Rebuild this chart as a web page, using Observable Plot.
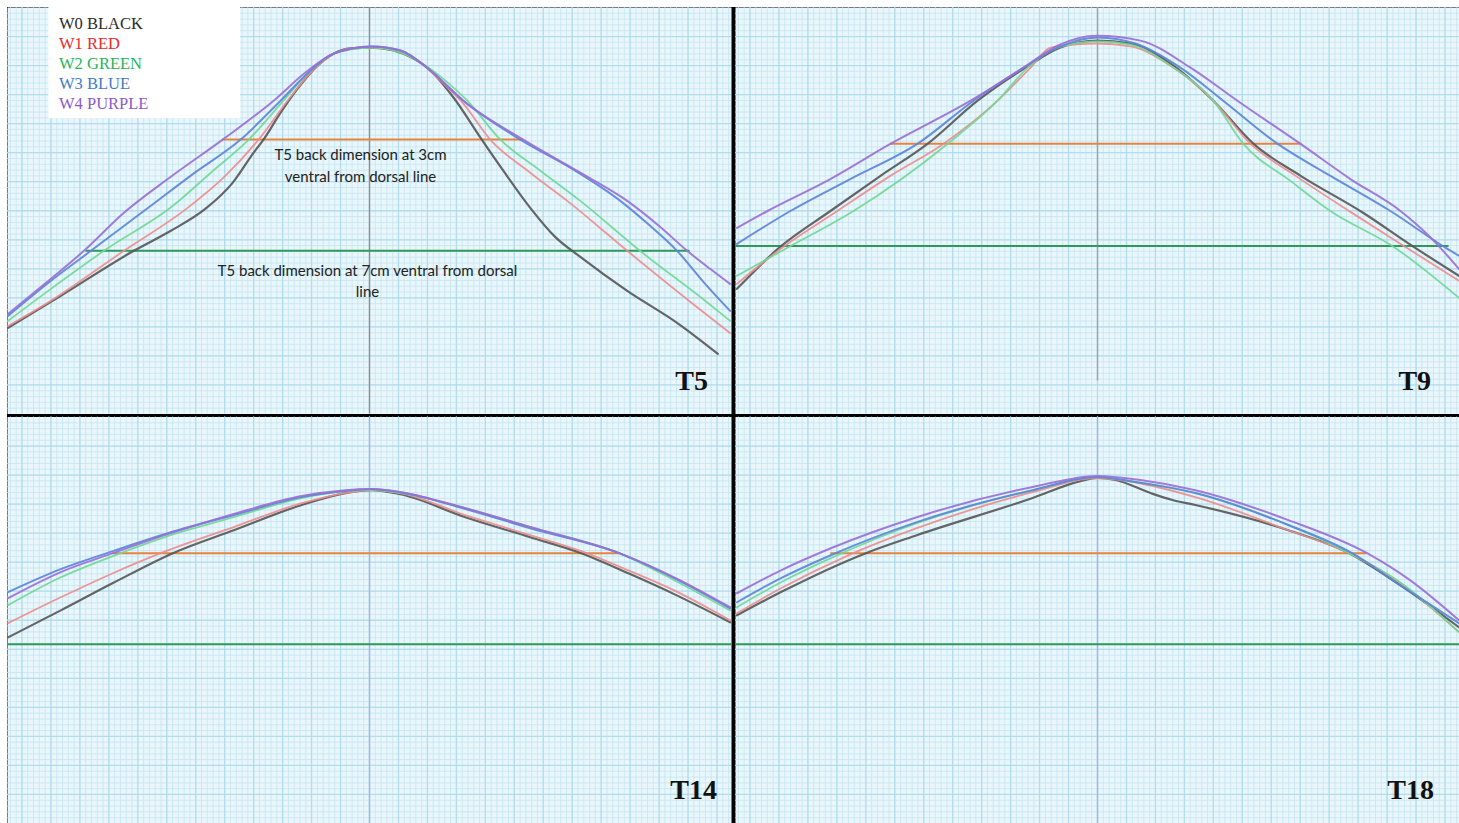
<!DOCTYPE html>
<html><head><meta charset="utf-8">
<script src="https://cdn.jsdelivr.net/npm/d3@7"></script>
<script src="https://cdn.jsdelivr.net/npm/@observablehq/plot@0.6"></script>
<style>
html,body{margin:0;padding:0;background:#fff;}
#wrap{position:absolute;left:7px;top:7px;width:1452px;height:816px;background:#000;}
</style></head>
<body><div id="wrap"></div>
<script>
// ---- categories ----
const panels = ["T5", "T9", "T14", "T18"];
const panelCol = {T5: "left", T9: "right", T14: "left", T18: "right"};
const panelRow = {T5: "top", T9: "top", T14: "bottom", T18: "bottom"};
const series = ["W0 BLACK", "W1 RED", "W2 GREEN", "W3 BLUE", "W4 PURPLE"];
const lineColors = ["#555555", "#ec8c8c", "#6fd894", "#5b84d8", "#9a6ed6"];
const lineWidths = [2.2, 1.8, 1.8, 2, 2];
const legendColors = ["#2a2a2a", "#e8282b", "#25b45c", "#3f7ac4", "#8c5ac6"];

// ---- curve values: [cm from midline, cm below panel top] ----
const t5W0 = [[-12.48,11.03],[-10.66,9.93],[-8.14,8.38],[-6.86,7.69],[-5.66,6.93],[-4.72,6.03],[-4.0,5.0],[-3.66,4.55],[-3.07,3.62],[-2.48,2.79],[-1.79,2.0],[-1.24,1.59],[-0.66,1.41],[0.07,1.38],[0.83,1.48],[1.52,1.76],[2.0,2.07],[2.9,3.1],[3.83,4.48],[4.62,5.62],[5.55,6.9],[6.41,7.9],[7.28,8.59],[8.9,9.76],[10.62,10.86],[12.03,11.93]];
const t5W1 = [[-12.48,10.97],[-11.0,10.1],[-8.48,8.38],[-6.28,6.9],[-4.97,5.79],[-3.83,4.55],[-2.83,3.21],[-2.03,2.24],[-1.34,1.66],[-0.66,1.41],[0.07,1.38],[0.9,1.48],[1.76,1.9],[2.45,2.52],[3.24,3.31],[4.17,4.55],[5.55,5.69],[6.83,6.66],[8.9,8.38],[11.17,10.21],[12.45,11.21]];
const t5W2 = [[-12.48,10.79],[-11.0,9.69],[-9.17,8.38],[-6.79,6.83],[-5.48,5.69],[-4.17,4.55],[-2.97,3.21],[-2.03,2.17],[-1.24,1.59],[0.07,1.38],[0.97,1.52],[1.93,2.0],[2.62,2.52],[3.38,3.21],[4.52,4.55],[5.9,5.62],[7.28,6.66],[9.34,8.38],[11.59,10.1],[12.45,10.79]];
const t5W3 = [[-12.48,10.62],[-11.0,9.41],[-9.62,8.38],[-7.55,6.83],[-6.17,5.79],[-4.45,4.55],[-3.07,3.21],[-2.03,2.17],[-1.24,1.59],[0.07,1.34],[1.07,1.48],[2.1,2.17],[3.24,3.21],[5.21,4.55],[7.1,5.62],[8.66,6.66],[9.69,7.52],[10.62,8.38],[11.59,9.52],[12.45,10.45]];
const t5W4 = [[-12.48,10.55],[-11.17,9.48],[-9.86,8.38],[-8.48,7.07],[-6.86,5.83],[-5.07,4.55],[-3.31,3.21],[-2.21,2.24],[-1.24,1.59],[0.07,1.34],[1.07,1.48],[2.1,2.17],[3.24,3.21],[5.31,4.55],[7.28,5.69],[8.9,6.66],[10.03,7.55],[10.97,8.38],[11.76,9.0],[12.45,9.52]];

const t9W0 = [[-12.45,9.69],[-11.0,8.28],[-9.21,7.0],[-7.48,5.79],[-5.86,4.69],[-4.14,3.21],[-2.48,2.07],[-1.28,1.38],[0,1.14],[1.14,1.24],[2.62,2.0],[4.0,3.21],[5.38,4.69],[7.0,5.79],[9.17,7.07],[10.76,8.14],[12.48,9.24]];
const t9W1 = [[-12.45,9.52],[-10.9,8.28],[-8.97,7.0],[-7.14,5.79],[-5.31,4.69],[-3.45,3.21],[-2.31,2.07],[-1.62,1.38],[0,1.24],[1.14,1.34],[2.62,2.07],[4.0,3.21],[5.28,4.69],[6.83,5.79],[8.72,7.03],[10.62,8.24],[12.48,9.41]];
const t9W2 = [[-12.45,9.24],[-10.72,8.28],[-8.41,7.0],[-5.17,4.69],[-3.45,3.21],[-2.41,2.07],[-1.38,1.38],[0,1.17],[1.14,1.28],[2.62,2.07],[4.0,3.21],[5.03,4.69],[6.66,5.97],[8.03,7.0],[10.28,8.28],[12.48,10.0]];
const t9W3 = [[-12.45,8.14],[-10.59,7.0],[-8.52,5.9],[-6.21,4.69],[-4.28,3.21],[-2.55,2.07],[-1.38,1.38],[0,1.03],[1.31,1.24],[2.86,2.07],[4.34,3.21],[6.21,4.69],[8.03,5.79],[10.1,7.0],[12.03,8.28],[12.48,8.55]];
const t9W4 = [[-12.45,7.59],[-11.38,7.0],[-9.21,5.9],[-7.14,4.69],[-4.38,3.21],[-2.55,2.07],[-1.38,1.31],[0,0.97],[1.48,1.14],[3.21,2.07],[4.83,3.21],[7.0,4.69],[8.72,5.9],[10.45,7.0],[11.48,7.9],[12.48,9.0]];

const t14W0 = [[-12.48,7.59],[-10.66,6.66],[-8.86,5.72],[-6.79,4.69],[-4.69,3.9],[-2.34,3.03],[-0.83,2.62],[0.07,2.52],[1.07,2.66],[3.31,3.45],[5.55,4.14],[7.31,4.69],[9.0,5.41],[10.52,6.1],[12.45,7.07]];
const t14W1 = [[-12.48,7.1],[-10.66,6.21],[-8.86,5.38],[-7.21,4.69],[-4.69,3.79],[-2.34,2.97],[-0.83,2.62],[0.07,2.52],[1.07,2.62],[3.31,3.38],[5.55,4.07],[7.31,4.62],[9.0,5.31],[10.52,5.97],[12.45,7.0]];
const t14W2 = [[-12.48,6.48],[-10.66,5.52],[-8.86,4.79],[-6.86,4.07],[-4.69,3.45],[-2.34,2.79],[-0.83,2.55],[0.07,2.52],[1.07,2.62],[3.31,3.14],[5.55,3.79],[8.62,4.69],[10.52,5.62],[12.45,6.66]];
const t14W3 = [[-12.48,6.03],[-10.66,5.24],[-8.86,4.62],[-6.86,3.97],[-4.69,3.38],[-2.34,2.76],[-0.83,2.55],[0.07,2.48],[1.07,2.59],[3.31,3.17],[5.55,3.83],[8.62,4.69],[10.52,5.55],[12.45,6.59]];
const t14W4 = [[-12.48,6.24],[-10.66,5.34],[-8.86,4.69],[-6.86,4.0],[-4.69,3.34],[-2.34,2.72],[-0.83,2.52],[0.07,2.48],[1.07,2.59],[3.31,3.14],[5.55,3.79],[8.62,4.69],[10.52,5.52],[12.45,6.55]];

const t18W0 = [[-12.45,6.83],[-10.93,6.03],[-8.0,4.69],[-6.24,4.07],[-2.24,2.79],[-0.59,2.21],[0,2.1],[0.62,2.17],[1.83,2.62],[2.59,2.86],[3.38,3.03],[6.59,3.9],[8.69,4.69],[10.45,5.79],[12.48,7.24]];
const t18W1 = [[-12.45,6.76],[-10.93,5.9],[-8.66,4.79],[-6.24,3.83],[-2.24,2.59],[0,2.1],[0.79,2.17],[3.38,2.76],[6.59,3.9],[8.69,4.69],[10.45,5.72],[12.48,7.41]];
const t18W2 = [[-12.45,6.55],[-10.93,5.69],[-9.21,4.86],[-6.24,3.66],[-2.24,2.52],[0,2.07],[1.14,2.21],[3.38,2.62],[6.59,3.72],[8.69,4.69],[10.45,5.69],[12.48,7.41]];
const t18W3 = [[-12.45,6.38],[-10.93,5.55],[-9.21,4.76],[-6.24,3.62],[-2.24,2.52],[0,2.07],[1.14,2.21],[3.38,2.62],[6.59,3.72],[8.79,4.69],[10.45,5.79],[12.48,7.1]];
const t18W4 = [[-12.45,6.07],[-10.93,5.28],[-9.21,4.52],[-6.24,3.45],[-2.24,2.41],[0,2.03],[1.48,2.17],[3.38,2.52],[6.59,3.55],[9.31,4.69],[10.79,5.62],[12.48,7.0]];

const curveSets = {
  T5: [t5W0, t5W1, t5W2, t5W3, t5W4],
  T9: [t9W0, t9W1, t9W2, t9W3, t9W4],
  T14: [t14W0, t14W1, t14W2, t14W3, t14W4],
  T18: [t18W0, t18W1, t18W2, t18W3, t18W4]
};

// ---- measurement lines (3 cm orange, 7 cm green) ----
const measPanel = ["T5", "T5", "T9", "T9", "T14", "T14", "T18", "T18"];
const measY = [4.55, 8.38, 4.69, 8.21, 4.69, 7.83, 4.69, 7.83];
const measX1 = [-5.07, -9.79, -7.14, -12.5, -8.86, -12.5, -9.21, -12.5];
const measX2 = [5.31, 11.07, 7.07, 12.14, 8.62, 12.5, 9.31, 12.5];
const measColor = ["#e5843f", "#2e9a5a", "#e5843f", "#2e9a5a", "#e5843f", "#2e9a5a", "#e5843f", "#2e9a5a"];

// ---- midline ----
const midY2 = [14, 12.86, 14, 14];
const midColor = ["#8f8f8f", "#9da2a8", "#a3b3ea", "#a3b3ea"];

// ---- panel labels ----
const labelX = [11.69, 11.52, 12.0, 11.62];
const labelY = [13.17, 13.17, 13.17, 13.17];

// ---- T5 annotations ----
const noteText = ["T5 back dimension at 3cm\nventral from dorsal line", "T5 back dimension at 7cm ventral from dorsal\nline"];
const noteX = [-0.31, -0.07];
const noteY = [5.38, 9.37];

// ---- legend ----
const legendY = [0.55, 1.24, 1.93, 2.62, 3.31];
const legendX = -10.72;
const legendBox = {x1: -11.07, x2: -4.45, y1: 0, y2: 3.83};

// ---- build tables ----
const place = p => ({col: panelCol[p], row: panelRow[p]});
const curveRows = series.map((s, i) =>
  panels.flatMap(p => curveSets[p][i].map(([x, y]) => ({panel: p, series: s, x, y, ...place(p)}))));
const measRows = measPanel.map((p, i) => ({panel: p, y: measY[i], x1: measX1[i], x2: measX2[i], color: measColor[i], ...place(p)}));
const midRows = panels.map((p, i) => ({panel: p, y1: 0, y2: midY2[i], color: midColor[i], ...place(p)}));
const labelRows = panels.map((p, i) => ({panel: p, x: labelX[i], y: labelY[i], ...place(p)}));
const noteRows = noteText.map((t, i) => ({text: t, x: noteX[i], y: noteY[i], ...place("T5")}));
const boxRows = [{...legendBox, ...place("T5")}];

const minorTicksX = d3.range(-12.4, 12.5, 0.2);
const minorTicksY = d3.range(0.2, 14, 0.2);
const majorTicksX = d3.range(-12, 13, 1);
const majorTicksY = d3.range(1, 14, 1);

const fac = {fx: "col", fy: "row"};

const chart = Plot.plot({
  width: 1452,
  height: 816,
  margin: 0,
  style: {background: "transparent"},
  x: {domain: [-12.5, 12.5], axis: null},
  y: {domain: [0, 14], reverse: true, axis: null},
  fx: {domain: ["left", "right"], paddingInner: 4 / 728, paddingOuter: 0, round: false, axis: null},
  fy: {domain: ["top", "bottom"], paddingInner: 3 / 409.5, paddingOuter: 0, round: false, axis: null},
  marks: [
    Plot.frame({fill: "#e9f6fb", stroke: "none"}),
    Plot.gridX(minorTicksX, {stroke: "#c4e4f0", strokeOpacity: 0.75, strokeWidth: 1}),
    Plot.gridY(minorTicksY, {stroke: "#c4e4f0", strokeOpacity: 0.75, strokeWidth: 1}),
    Plot.gridX(majorTicksX, {stroke: "#addaea", strokeOpacity: 0.8, strokeWidth: 1.3}),
    Plot.gridY(majorTicksY, {stroke: "#addaea", strokeOpacity: 0.8, strokeWidth: 1.3}),
    Plot.ruleX(midRows, {x: 0, y1: "y1", y2: "y2", stroke: d => d.color, strokeWidth: 1.4, ...fac}),
    Plot.rect(boxRows, {x1: "x1", x2: "x2", y1: "y1", y2: "y2", fill: "white", ...fac}),
    ...series.map((s, i) => Plot.text(boxRows, {x: legendX, y: legendY[i], text: () => s, fill: legendColors[i],
      textAnchor: "start", lineAnchor: "middle", fontFamily: "Liberation Serif", fontSize: 16.5, ...fac})),
    Plot.ruleY(measRows, {y: "y", x1: "x1", x2: "x2", stroke: d => d.color, strokeWidth: 2, ...fac}),
    ...series.map((s, i) => Plot.line(curveRows[i], {x: "x", y: "y", z: "panel", stroke: lineColors[i],
      strokeWidth: lineWidths[i], strokeOpacity: 0.9, curve: "monotone-x", ...fac})),
    Plot.text(noteRows, {x: "x", y: "y", text: "text", fill: "#222", fontFamily: "Lato", fontSize: 15,
      lineHeight: 1.45, textAnchor: "middle", lineAnchor: "middle", ...fac}),
    Plot.text(labelRows, {x: "x", y: "y", text: "panel", fill: "#111", fontFamily: "Liberation Serif",
      fontWeight: "bold", fontSize: 28, textAnchor: "end", lineAnchor: "bottom", ...fac})
  ]
});
document.getElementById("wrap").appendChild(chart);
</script>
</body></html>
